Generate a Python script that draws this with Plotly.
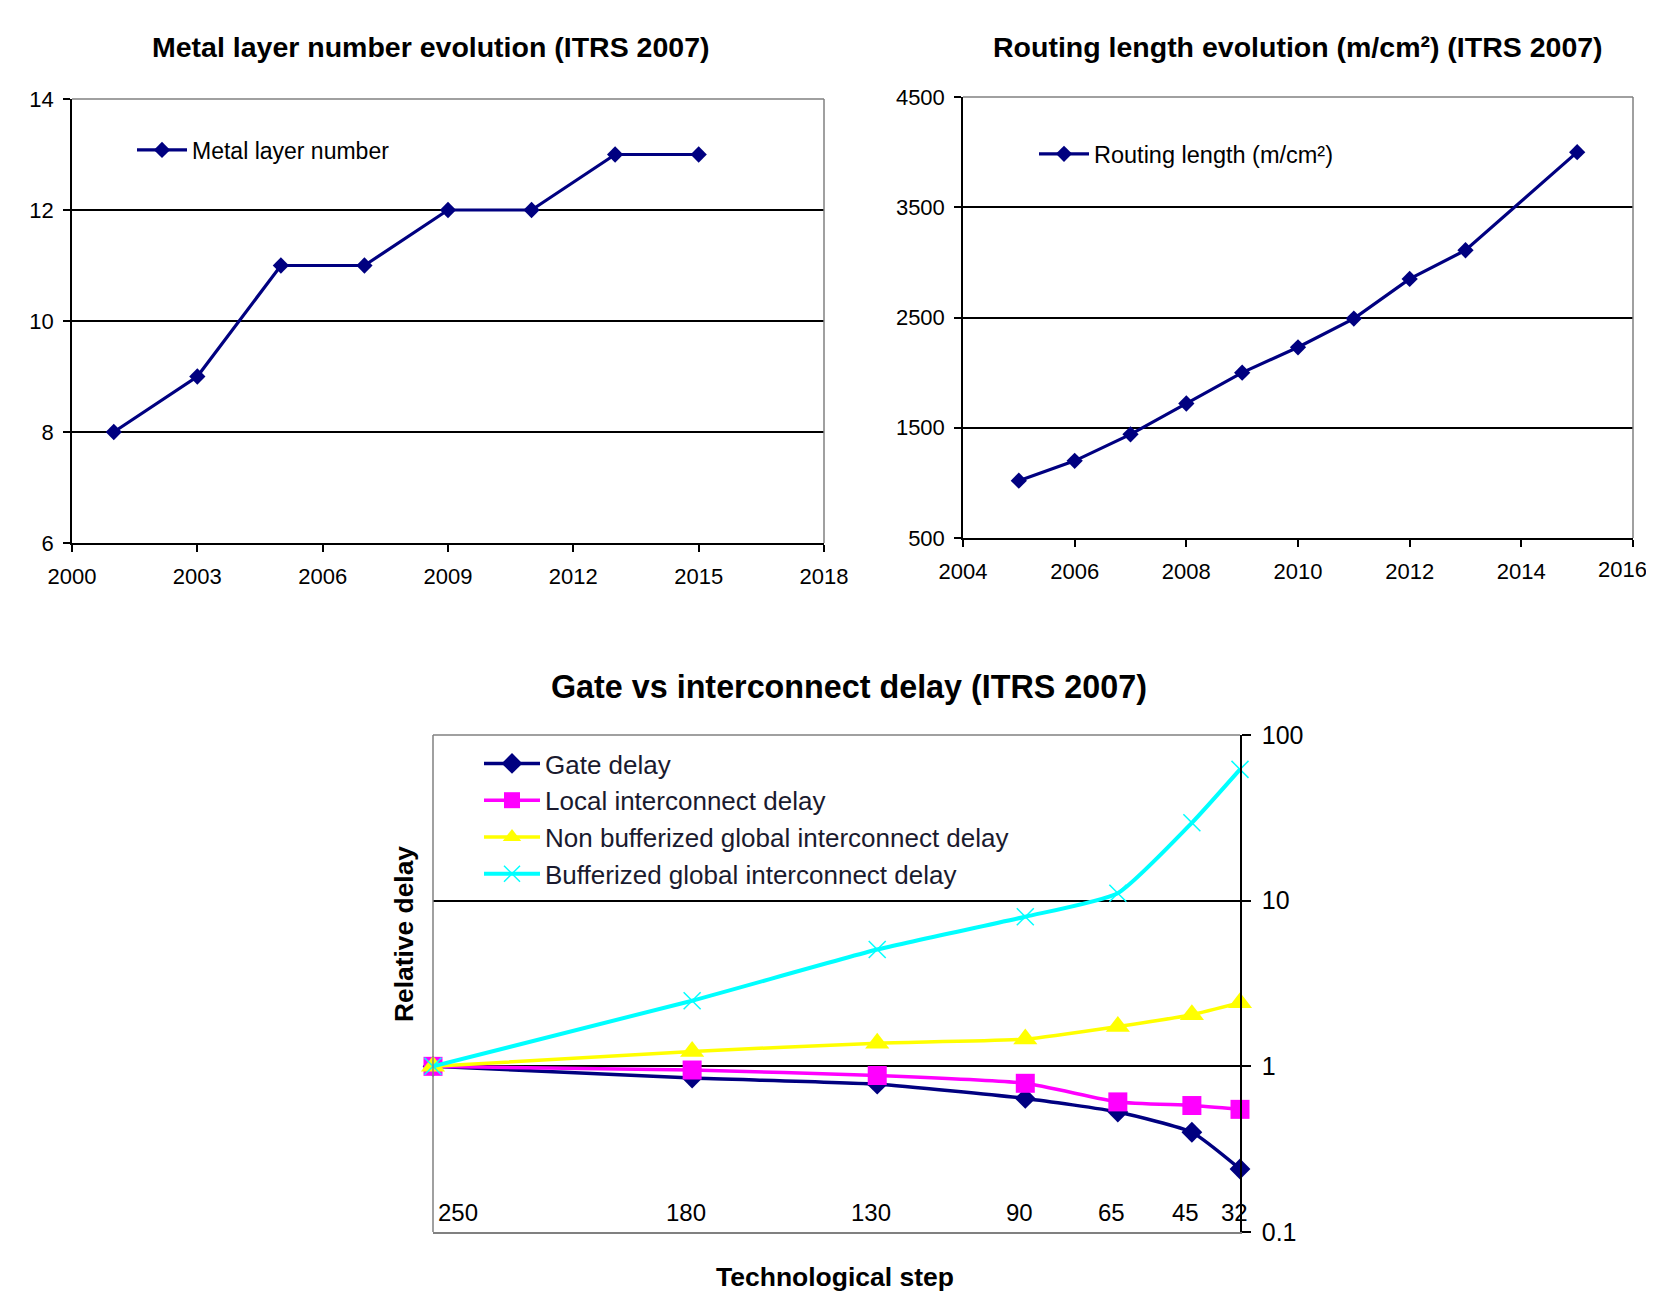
import plotly.graph_objects as go

# page offset: the browser body adds an 8px margin around the figure
OFF = 8
W, H = 1654 - OFF, 1297 - OFF

# ---------------- data ----------------
metal_years = [2001, 2003, 2005, 2007, 2009, 2011, 2013, 2015]
metal_layers = [8, 9, 11, 11, 12, 12, 13, 13]

route_years = [2005, 2006, 2007, 2008, 2009, 2010, 2011, 2012, 2013, 2015]
route_length = [1020, 1200, 1440, 1720, 2000, 2230, 2490, 2850, 3110, 4000]

tech_nodes = [250, 180, 130, 90, 65, 45, 32]
gate_delay = [1, 0.85, 0.78, 0.64, 0.53, 0.40, 0.24]
local_delay = [1, 0.95, 0.88, 0.79, 0.61, 0.58, 0.55]
nonbuf_delay = [1, 1.23, 1.38, 1.46, 1.74, 2.05, 2.42]
buf_delay = [1, 2.49, 5.07, 8.0, 11.1, 29.5, 62]

metal_xticks = [2000, 2003, 2006, 2009, 2012, 2015, 2018]
metal_yticks = [6, 8, 10, 12, 14]
route_xticks = [2004, 2006, 2008, 2010, 2012, 2014, 2016]
route_yticks = [500, 1500, 2500, 3500, 4500]
delay_yticks = [0.1, 1, 10, 100]
delay_yticktext = ["0.1", "1", "10", "100"]

NAVY = "#000080"
FONT = "Liberation Sans, Arial, sans-serif"

def px_x(p):
    return (p - OFF) / W

def px_y(p):
    return 1 - (p - OFF) / H

fig = go.Figure()

# ---------------- top-left ----------------
fig.add_trace(go.Scatter(
    x=metal_years, y=metal_layers, mode="lines+markers", name="Metal layer number",
    line=dict(color=NAVY, width=3.2), marker=dict(symbol="diamond", size=12.5, color=NAVY),
    xaxis="x", yaxis="y", legend="legend", cliponaxis=False))

# ---------------- top-right ----------------
fig.add_trace(go.Scatter(
    x=route_years, y=route_length, mode="lines+markers", name="Routing length (m/cm²)",
    line=dict(color=NAVY, width=3.2), marker=dict(symbol="diamond", size=12.5, color=NAVY),
    xaxis="x2", yaxis="y2", legend="legend2", cliponaxis=False))

# ---------------- bottom ----------------
bottom_series = [
    ("Gate delay", gate_delay, NAVY, 3.5, dict(symbol="diamond", size=16, color=NAVY)),
    ("Local interconnect delay", local_delay, "#FF00FF", 3.5,
     dict(symbol="square", size=19, color="#FF00FF")),
    ("Non bufferized global interconnect delay", nonbuf_delay, "#FFFF00", 3.5,
     dict(symbol="triangle-up", size=21, color="#FFFF00")),
    ("Bufferized global interconnect delay", buf_delay, "#00FFFF", 4,
     dict(symbol="x-thin-open", size=17, color="#00FFFF", line=dict(width=1.5, color="#00FFFF"))),
]
for name, vals, col, lw, mk in bottom_series:
    fig.add_trace(go.Scatter(
        x=tech_nodes, y=vals, mode="lines+markers", name=name,
        line=dict(color=col, width=lw, shape="spline", smoothing=0.5), marker=mk,
        xaxis="x3", yaxis="y3", legend="legend3", cliponaxis=False))

tick_font = dict(family=FONT, size=22, color="black")

# plot area pixel boxes (left, right, top, bottom)
b1 = (72, 824, 99, 543)
b2 = (963, 1633, 97, 538)
b3 = (433, 1240, 735, 1232)

def dom(b):
    return [px_x(b[0]), px_x(b[1])], [px_y(b[3]), px_y(b[2])]

d1x, d1y = dom(b1)
d2x, d2y = dom(b2)
d3x, d3y = dom(b3)

common_x = dict(showline=True, linecolor="black", linewidth=1.5, ticks="outside", ticklen=7,
                tickcolor="black", tickwidth=1.5, showgrid=False, zeroline=False, tickfont=tick_font,
                ticklabelstandoff=6, automargin=False)
common_y = dict(showline=True, linecolor="black", linewidth=1.5, ticks="outside", ticklen=7,
                tickcolor="black", tickwidth=1.5, showgrid=True, gridcolor="black", gridwidth=2,
                zeroline=False, tickfont=tick_font, ticklabelstandoff=5, automargin=False)

# the last routing-length year label sits at the page edge: drawn right-aligned as annotation
route_xticktext = [str(v) for v in route_xticks[:-1]] + [""]

legend_common = dict(bgcolor="rgba(0,0,0,0)", borderwidth=0, xanchor="left")

fig.update_layout(
    width=W, height=H, autosize=False,
    margin=dict(l=0, r=0, t=0, b=0, pad=0, autoexpand=False),
    paper_bgcolor="white", plot_bgcolor="white",
    font=dict(family=FONT, color="black"),
    xaxis=dict(domain=d1x, range=[2000, 2018], tickvals=metal_xticks, anchor="y", **common_x),
    yaxis=dict(domain=d1y, range=[6, 14], tickvals=metal_yticks, anchor="x", **common_y),
    xaxis2=dict(domain=d2x, range=[2004, 2016], tickvals=route_xticks, ticktext=route_xticktext,
                anchor="y2", **common_x),
    yaxis2=dict(domain=d2y, range=[500, 4500], tickvals=route_yticks, anchor="x2", **common_y),
    xaxis3=dict(domain=d3x, range=[250, 32], anchor="y3", showline=True, linecolor="#808080",
                linewidth=1.5, showticklabels=False, ticks="", showgrid=False, zeroline=False,
                automargin=False),
    yaxis3=dict(domain=d3y, type="log", range=[-1, 2], side="right", anchor="x3",
                tickvals=delay_yticks, ticktext=delay_yticktext, showline=True, linecolor="black",
                linewidth=1.5, ticks="outside", ticklen=9, tickcolor="black", tickwidth=1.5,
                showgrid=True, gridcolor="black", gridwidth=2, zeroline=False, automargin=False,
                ticklabelstandoff=6, tickfont=dict(family=FONT, size=25, color="black")),
    legend=dict(x=px_x(132), y=px_y(150), yanchor="middle", itemwidth=50,
                font=dict(family=FONT, size=23, color="black"), **legend_common),
    legend2=dict(x=px_x(1034), y=px_y(154), yanchor="middle", itemwidth=50,
                 font=dict(family=FONT, size=23.5, color="black"), **legend_common),
    legend3=dict(x=px_x(479), y=px_y(740), yanchor="top", itemwidth=56,
                 font=dict(family=FONT, size=26, color="#1a1a2e"), **legend_common),
    showlegend=True,
)

# grey plot-area borders (top/right for top charts, top/left for bottom chart)
shapes = []
for xr, yr in (("x domain", "y domain"), ("x2 domain", "y2 domain")):
    shapes.append(dict(type="line", xref=xr, yref=yr, x0=0, x1=1, y0=1, y1=1,
                       line=dict(color="#808080", width=1.5), layer="above"))
    shapes.append(dict(type="line", xref=xr, yref=yr, x0=1, x1=1, y0=0, y1=1,
                       line=dict(color="#808080", width=1.5), layer="above"))
shapes.append(dict(type="line", xref="x3 domain", yref="y3 domain", x0=0, x1=1, y0=1, y1=1,
                   line=dict(color="#808080", width=1.5), layer="above"))
shapes.append(dict(type="line", xref="x3 domain", yref="y3 domain", x0=0, x1=0, y0=0, y1=1,
                   line=dict(color="#808080", width=1.5), layer="above"))
fig.update_layout(shapes=shapes)

ann = []
title_font_small = dict(family=FONT, size=28.5, color="black")
ann.append(dict(text="<b>Metal layer number evolution (ITRS 2007)</b>", x=px_x(430), y=px_y(47),
                xref="paper", yref="paper", showarrow=False, xanchor="center", yanchor="middle",
                font=title_font_small))
ann.append(dict(text="<b>Routing length evolution (m/cm²) (ITRS 2007)</b>", x=px_x(1298), y=px_y(47),
                xref="paper", yref="paper", showarrow=False, xanchor="center", yanchor="middle",
                font=title_font_small))
ann.append(dict(text="<b>Gate vs interconnect delay (ITRS 2007)</b>", x=px_x(849), y=px_y(687),
                xref="paper", yref="paper", showarrow=False, xanchor="center", yanchor="middle",
                font=dict(family=FONT, size=32.3, color="black")))
ann.append(dict(text="<b>Relative delay</b>", x=px_x(404), y=px_y(934), textangle=-90,
                xref="paper", yref="paper", showarrow=False, xanchor="center", yanchor="middle",
                font=dict(family=FONT, size=26.4, color="black")))
ann.append(dict(text="<b>Technological step</b>", x=px_x(835), y=px_y(1277),
                xref="paper", yref="paper", showarrow=False, xanchor="center", yanchor="middle",
                font=dict(family=FONT, size=26.5, color="black")))
# last x tick label of the routing chart, kept inside the page
ann.append(dict(text=str(route_xticks[-1]), x=route_xticks[-1], xref="x2", y=0, yref="y2 domain",
                showarrow=False, xanchor="right", xshift=16, yanchor="top", yshift=-17,
                font=tick_font))
# category labels of the bottom chart, drawn inside the plot area
for i, n in enumerate(tech_nodes):
    first = i == 0
    ann.append(dict(text=str(n), x=n, xref="x3", y=0.04, yref="y3 domain", showarrow=False,
                    xanchor="left" if first else "center", xshift=3 if first else -6,
                    yanchor="middle", font=dict(family=FONT, size=24, color="black")))
fig.update_layout(annotations=ann)

fig.write_html("out.html")
